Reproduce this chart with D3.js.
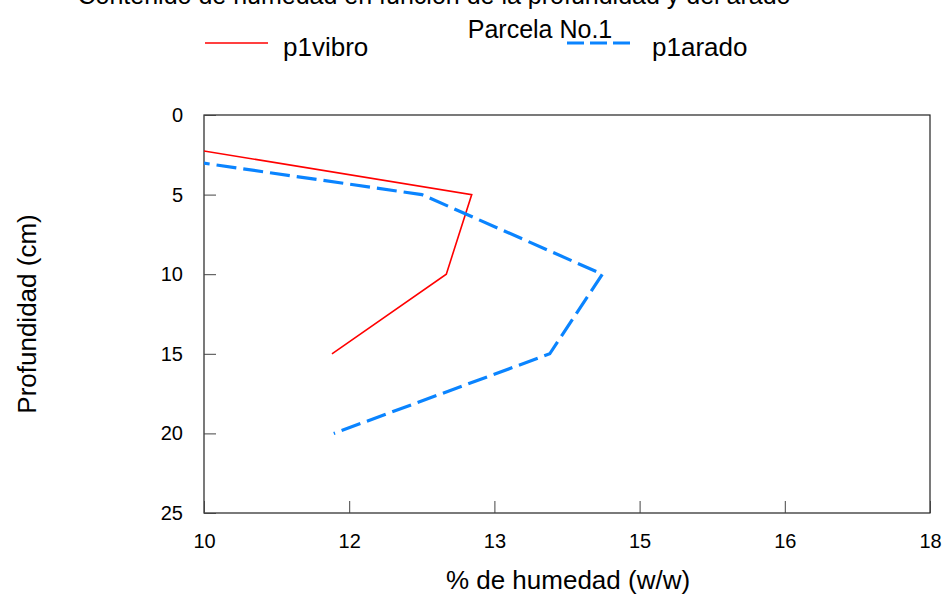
<!DOCTYPE html>
<html>
<head>
<meta charset="utf-8">
<script src="https://cdnjs.cloudflare.com/ajax/libs/d3/7.8.5/d3.min.js"></script>
<style>
  body { margin: 0; background: #fff; }
  text { font-family: "Liberation Sans", Arial, sans-serif; fill: #000; }
</style>
</head>
<body>
<div id="chart"></div>
<script>
// depth (cm) and moisture (% w/w) per series
var depthVibro = [0, 5, 10, 15];
var humVibro = [7.56, 12.95, 12.67, 11.41];
var depthArado = [0, 5, 10, 15, 20];
var humArado = [6.31, 12.40, 14.39, 13.81, 11.43];

var xTicks = [10, 11.6, 13.2, 14.8, 16.4, 18];
var xTickLabels = ["10", "12", "13", "15", "16", "18"];
var yTicks = [0, 5, 10, 15, 20, 25];

var width = 946, height = 596;
var margin = { left: 204, right: 16, top: 115, bottom: 83 };

var svg = d3.select("#chart").append("svg")
  .attr("width", width)
  .attr("height", height);

var x = d3.scaleLinear().domain([10, 18]).range([margin.left, width - margin.right]);
var y = d3.scaleLinear().domain([0, 25]).range([margin.top, height - margin.bottom]);

// clip lines to plot box
svg.append("clipPath").attr("id", "clip")
  .append("rect")
  .attr("x", x(10)).attr("y", y(0))
  .attr("width", x(18) - x(10)).attr("height", y(25) - y(0));

// frame
svg.append("rect")
  .attr("x", x(10)).attr("y", y(0))
  .attr("width", x(18) - x(10)).attr("height", y(25) - y(0))
  .attr("fill", "none").attr("stroke", "#222").attr("stroke-width", 1.2);

// x axis, ticks pointing up
var xAxis = svg.append("g")
  .attr("transform", "translate(0," + y(25) + ")")
  .call(d3.axisBottom(x).tickValues(xTicks)
    .tickFormat(function (d, i) { return xTickLabels[i]; })
    .tickSizeInner(-12).tickSizeOuter(0).tickPadding(21));
xAxis.select(".domain").remove();
xAxis.selectAll("line").attr("stroke", "#444");
xAxis.selectAll("text").style("font-size", "20px").attr("font-family", null);

// y axis, ticks pointing right
var yAxis = svg.append("g")
  .attr("transform", "translate(" + x(10) + ",0)")
  .call(d3.axisLeft(y).tickValues(yTicks)
    .tickSizeInner(-12).tickSizeOuter(0).tickPadding(21));
yAxis.select(".domain").remove();
yAxis.selectAll("line").attr("stroke", "#444");
yAxis.selectAll("text").style("font-size", "20px").attr("font-family", null);

var line = d3.line()
  .x(function (d) { return x(d[1]); })
  .y(function (d) { return y(d[0]); });

svg.append("path")
  .datum(d3.zip(depthVibro, humVibro))
  .attr("clip-path", "url(#clip)")
  .attr("d", line)
  .attr("fill", "none")
  .attr("stroke", "#ff0000")
  .attr("stroke-width", 1.6);

svg.append("path")
  .datum(d3.zip(depthArado, humArado))
  .attr("clip-path", "url(#clip)")
  .attr("d", line)
  .attr("fill", "none")
  .attr("stroke", "#0a84ff")
  .attr("stroke-width", 3.2)
  .attr("stroke-dasharray", "20,7");

// titles (the main title is cut at the top edge, as in the source)
svg.append("text")
  .attr("x", 434).attr("y", 4)
  .attr("text-anchor", "middle")
  .style("font-size", "25px")
  .text("Contenido de humedad en función de la profundidad y del arado");

svg.append("text")
  .attr("x", 540).attr("y", 38)
  .attr("text-anchor", "middle")
  .style("font-size", "25px")
  .text("Parcela No.1");

// legend
svg.append("line")
  .attr("x1", 205).attr("x2", 268).attr("y1", 43).attr("y2", 43)
  .attr("stroke", "#ff0000").attr("stroke-width", 1.6);
svg.append("text")
  .attr("x", 283).attr("y", 56)
  .style("font-size", "26px")
  .text("p1vibro");

svg.append("line")
  .attr("x1", 567).attr("x2", 632).attr("y1", 43).attr("y2", 43)
  .attr("stroke", "#0a84ff").attr("stroke-width", 3.2)
  .attr("stroke-dasharray", "17,6");
svg.append("text")
  .attr("x", 652).attr("y", 56)
  .style("font-size", "26px")
  .text("p1arado");

// axis labels
svg.append("text")
  .attr("x", 568).attr("y", 589)
  .attr("text-anchor", "middle")
  .style("font-size", "26px")
  .text("% de humedad (w/w)");

svg.append("text")
  .attr("transform", "translate(36,314) rotate(-90)")
  .attr("text-anchor", "middle")
  .style("font-size", "26px")
  .text("Profundidad (cm)");
</script>
</body>
</html>
